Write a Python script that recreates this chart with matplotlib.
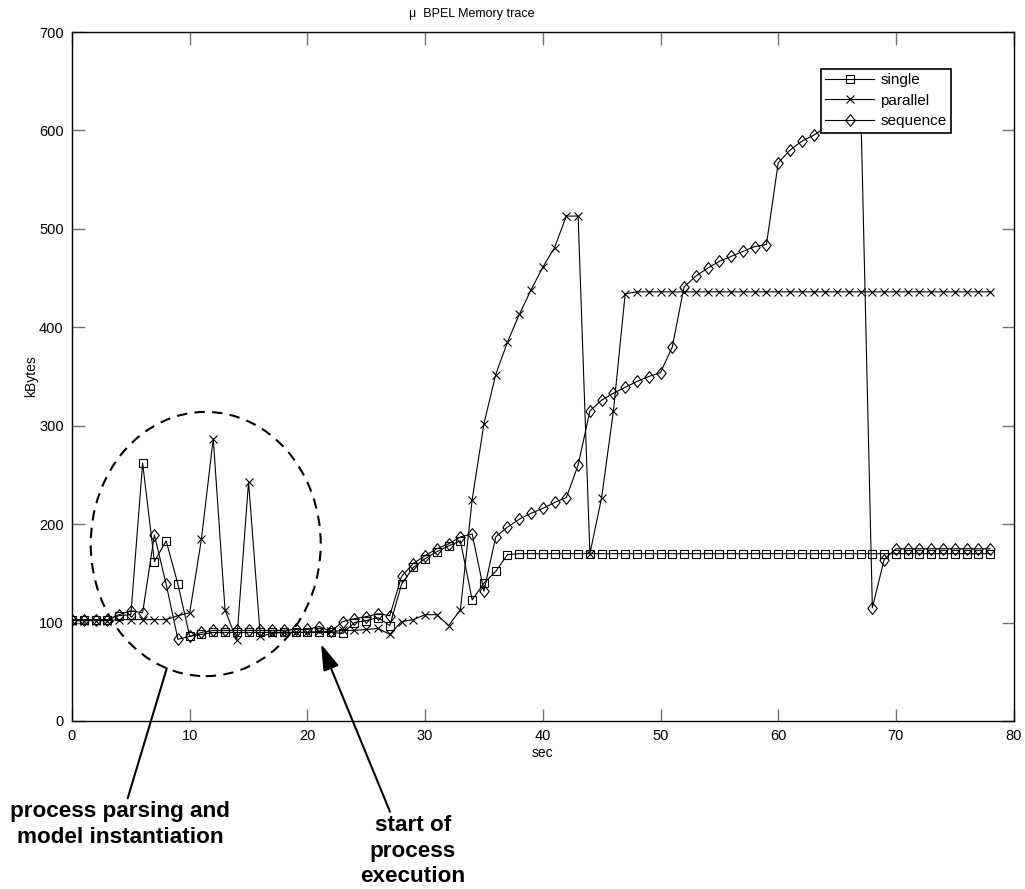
import matplotlib
import numpy as np

matplotlib.use("Agg")
import matplotlib.pyplot as plt
from matplotlib.patches import Ellipse
from matplotlib.path import Path as MPath

plt.rcParams["font.family"] = ["Liberation Sans", "DejaVu Sans"]

sec = np.arange(0, 79)

single = [
    103, 103, 103, 103, 107, 108, 262, 162, 183, 139,
    86, 88, 90, 90, 90, 90, 90, 90, 90, 90,
    90, 90, 90, 89, 100, 102, 105, 97, 139, 156,
    165, 172, 178, 183, 123, 140, 152, 169, 170, 170,
] + [170] * 39

parallel = [
    102, 102, 102, 102, 103, 103, 103, 103, 103, 107,
    110, 185, 287, 113, 82, 243, 86, 89, 90, 90,
    90, 91, 91, 92, 92, 93, 94, 88, 101, 103,
    108, 108, 97, 113, 225, 302, 352, 385, 413, 438,
    461, 481, 513, 513, 170, 227, 315, 434,
] + [436] * 31

sequence = [
    103, 103, 103, 103, 108, 112, 110, 189, 139, 83,
    86, 90, 92, 92, 92, 92, 92, 92, 92, 93,
    93, 96, 91, 101, 104, 106, 109, 107, 147, 160,
    168, 175, 180, 187, 190, 132, 187, 197, 205, 211,
    216, 222, 227, 260, 315, 326, 333, 339, 345, 350,
    354, 380, 441, 452, 460, 467, 472, 477, 482, 484,
    567, 580, 589, 595, 603, 612, 620, 632, 115, 164,
    175,
] + [175] * 8

# MATLAB-style diamond: a bit taller than wide
diamond = MPath([(-0.8, 0), (0, 1), (0.8, 0), (0, -1), (-0.8, 0)])

fig = plt.figure(figsize=(10.25, 8.89), dpi=100)
ax = fig.add_axes([72 / 1025, 1 - 721 / 889, (1013.6 - 72) / 1025, 689 / 889])

common = dict(color="black", linewidth=0.8, markerfacecolor="none",
              markeredgecolor="black", markeredgewidth=0.8)
ax.plot(sec, single, marker="s", markersize=6, label="single", **common)
ax.plot(sec, parallel, marker="x", markersize=5.5, label="parallel", **common)
ax.plot(sec, sequence, marker=diamond, markersize=8.5, label="sequence", **common)

ax.set_xlim(0, 80)
ax.set_ylim(0, 700)
ax.set_xticks(np.arange(0, 81, 10))
ax.set_yticks(np.arange(0, 701, 100))
ax.tick_params(direction="in", length=9, width=1, color="0.45", labelsize=10.5,
               top=True, right=True, pad=6)
for s in ax.spines.values():
    s.set_linewidth(1.0)
ax.set_xlabel("sec", fontsize=10, labelpad=2)
ax.set_ylabel("kBytes", fontsize=10, labelpad=1)
fig.text(472 / 1025, 1 - 14 / 889, "\u03bc  BPEL Memory trace", ha="center",
         va="center", fontsize=9)

leg = ax.legend(loc="upper right", bbox_to_anchor=(0.9335, 0.947), borderaxespad=0,
                fancybox=False, edgecolor="black", framealpha=1, fontsize=11,
                handlelength=3.2, handletextpad=0.4, labelspacing=0.42, borderpad=0.3)
leg.get_frame().set_linewidth(1.2)

# annotations
ax.add_patch(Ellipse((11.36, 179.8), 19.54, 268.5, fill=False, edgecolor="black",
                     linewidth=1.5, linestyle=(0, (5, 3.5))))

ax.annotate("", xy=(8.05, 53.5), xycoords="data",
            xytext=(127.7, 889 - 798.3), textcoords="figure pixels",
            arrowprops=dict(arrowstyle="-", lw=1.5, color="black",
                            shrinkA=0, shrinkB=0), annotation_clip=False)
ax.annotate("", xy=(21.16, 78.2), xycoords="data",
            xytext=(390, 889 - 811.7), textcoords="figure pixels",
            arrowprops=dict(arrowstyle="-|>,head_length=0.8,head_width=0.25",
                            mutation_scale=20, lw=1.5, color="black",
                            shrinkA=0, shrinkB=0), annotation_clip=False)

fig.text(120 / 1025, 1 - 824.5 / 889, "process parsing and\nmodel instantiation",
         ha="center", va="center", fontsize=16.2, fontweight="bold", linespacing=1.28)
fig.text(413 / 1025, 1 - 851 / 889, "start of\nprocess\nexecution",
         ha="center", va="center", fontsize=16.2, fontweight="bold", linespacing=1.28)

fig.savefig("out.png", dpi=100)
